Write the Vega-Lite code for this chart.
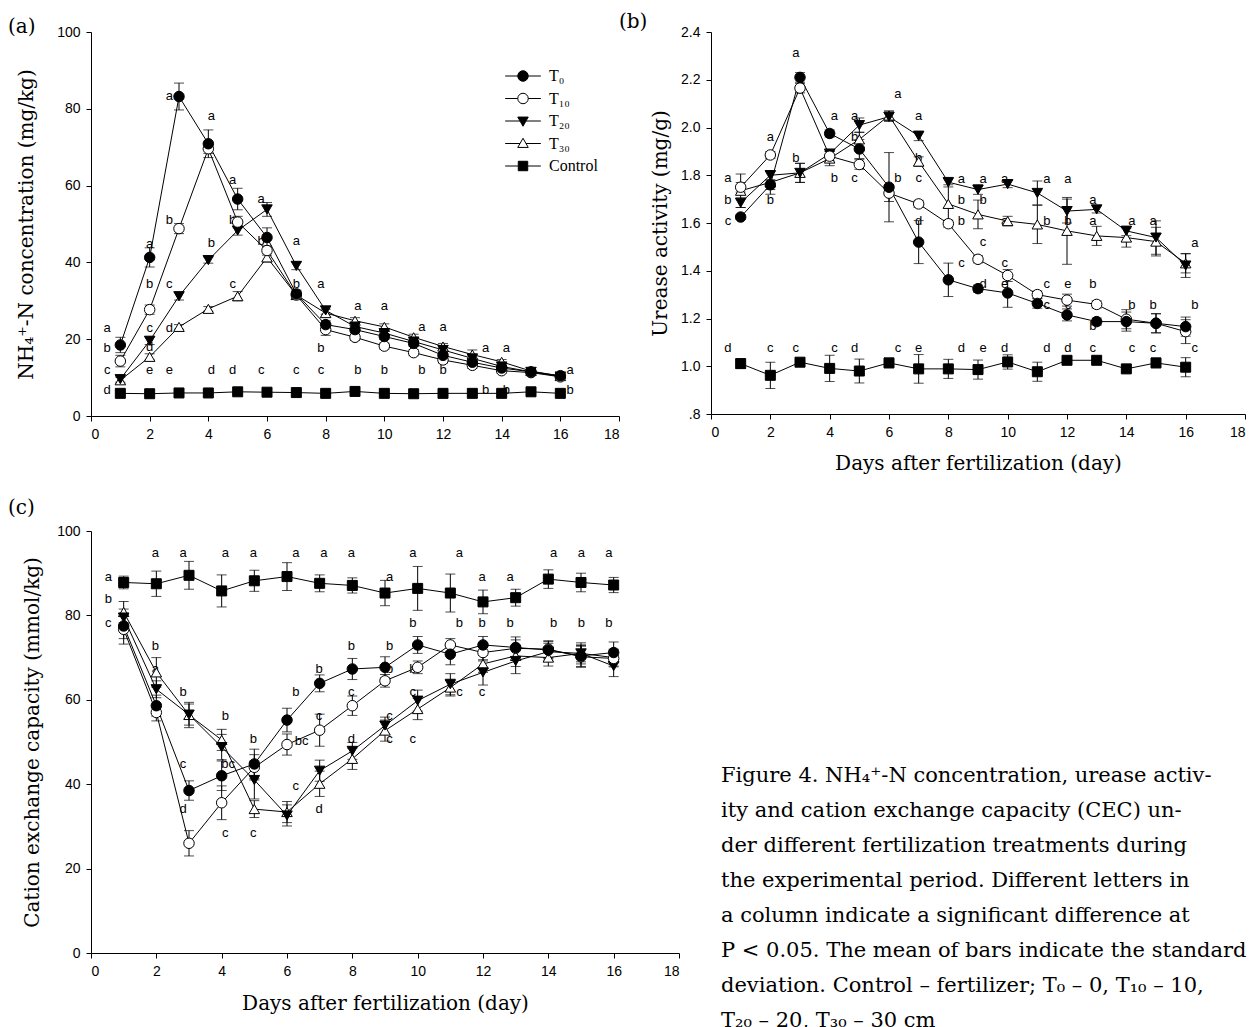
{
"$schema":"https://vega.github.io/schema/vega-lite/v6.json",
"background":"white",
"padding":{"left":8,"top":12,"right":0,"bottom":0},
"columns":2,
"bounds":"flush",
"align":"each",
"spacing":{"row":115,"column":32},
"config":{
 "view":{"stroke":null},
 "axis":{"domainColor":"black","tickColor":"black","labelColor":"black","titleColor":"black","grid":false,"labelFont":"Liberation Sans","labelFontSize":14,"titleFont":"DejaVu Serif","titleFontSize":20,"titleFontWeight":"normal","tickSize":5,"labelPadding":6,"domainWidth":1,"tickWidth":1},
 "title":{"font":"DejaVu Serif","fontSize":20,"fontWeight":"normal","anchor":"start","frame":"group","color":"black","offset":0}
},
"datasets":{
"a":[
{"day":1,"s":"T₀","v":18.5,"e":2},{"day":2,"s":"T₀","v":41.3,"e":2.5},{"day":3,"s":"T₀","v":83.2,"e":3.5},{"day":4,"s":"T₀","v":70.9,"e":3.6},{"day":5,"s":"T₀","v":56.5,"e":2.8},{"day":6,"s":"T₀","v":46.5,"e":2.5},{"day":7,"s":"T₀","v":31.8,"e":1},{"day":8,"s":"T₀","v":23.8,"e":1},{"day":9,"s":"T₀","v":22.5,"e":0.8},{"day":10,"s":"T₀","v":20.7,"e":0.8},{"day":11,"s":"T₀","v":18.9,"e":0.8},{"day":12,"s":"T₀","v":15.8,"e":0.8},{"day":13,"s":"T₀","v":14,"e":0.8},{"day":14,"s":"T₀","v":12.5,"e":0.6},{"day":15,"s":"T₀","v":11.5,"e":0.5},{"day":16,"s":"T₀","v":10.5,"e":0.5},
{"day":1,"s":"T₁₀","v":14.3,"e":1.5},{"day":2,"s":"T₁₀","v":27.7,"e":1.2},{"day":3,"s":"T₁₀","v":48.8,"e":1.3},{"day":4,"s":"T₁₀","v":69.6,"e":1.2},{"day":5,"s":"T₁₀","v":50.5,"e":1.5},{"day":6,"s":"T₁₀","v":43.1,"e":1.2},{"day":7,"s":"T₁₀","v":31.5,"e":1},{"day":8,"s":"T₁₀","v":22.5,"e":1.5},{"day":9,"s":"T₁₀","v":20.5,"e":0.8},{"day":10,"s":"T₁₀","v":18.2,"e":0.8},{"day":11,"s":"T₁₀","v":16.5,"e":0.8},{"day":12,"s":"T₁₀","v":14.6,"e":0.8},{"day":13,"s":"T₁₀","v":13.2,"e":0.8},{"day":14,"s":"T₁₀","v":11.8,"e":0.6},{"day":15,"s":"T₁₀","v":11.3,"e":0.5},{"day":16,"s":"T₁₀","v":10.2,"e":0.5},
{"day":1,"s":"T₂₀","v":9.6,"e":0.8},{"day":2,"s":"T₂₀","v":19.6,"e":1},{"day":3,"s":"T₂₀","v":31.2,"e":1},{"day":4,"s":"T₂₀","v":40.6,"e":0.8},{"day":5,"s":"T₂₀","v":48.3,"e":1.2},{"day":6,"s":"T₂₀","v":53.8,"e":1.8},{"day":7,"s":"T₂₀","v":39.1,"e":1},{"day":8,"s":"T₂₀","v":27.5,"e":1},{"day":9,"s":"T₂₀","v":23.3,"e":0.8},{"day":10,"s":"T₂₀","v":21.6,"e":0.8},{"day":11,"s":"T₂₀","v":19.4,"e":0.8},{"day":12,"s":"T₂₀","v":17.2,"e":0.8},{"day":13,"s":"T₂₀","v":15,"e":0.8},{"day":14,"s":"T₂₀","v":12.9,"e":0.6},{"day":15,"s":"T₂₀","v":11.5,"e":0.5},{"day":16,"s":"T₂₀","v":10.3,"e":0.5},
{"day":1,"s":"T₃₀","v":9.3,"e":0.8},{"day":2,"s":"T₃₀","v":15.4,"e":0.8},{"day":3,"s":"T₃₀","v":23.2,"e":0.6},{"day":4,"s":"T₃₀","v":27.9,"e":0.6},{"day":5,"s":"T₃₀","v":31.2,"e":1.2},{"day":6,"s":"T₃₀","v":41.3,"e":1.2},{"day":7,"s":"T₃₀","v":31.5,"e":1},{"day":8,"s":"T₃₀","v":26.8,"e":1},{"day":9,"s":"T₃₀","v":24.8,"e":0.8},{"day":10,"s":"T₃₀","v":23.2,"e":0.8},{"day":11,"s":"T₃₀","v":20.5,"e":0.8},{"day":12,"s":"T₃₀","v":18.1,"e":0.8},{"day":13,"s":"T₃₀","v":16,"e":1.2},{"day":14,"s":"T₃₀","v":14.1,"e":0.6},{"day":15,"s":"T₃₀","v":11.7,"e":0.5},{"day":16,"s":"T₃₀","v":10.4,"e":0.5},
{"day":1,"s":"Control","v":5.9,"e":0.4},{"day":2,"s":"Control","v":5.8,"e":0.4},{"day":3,"s":"Control","v":6,"e":0.4},{"day":4,"s":"Control","v":6,"e":0.4},{"day":5,"s":"Control","v":6.3,"e":0.4},{"day":6,"s":"Control","v":6.2,"e":0.4},{"day":7,"s":"Control","v":6.1,"e":0.4},{"day":8,"s":"Control","v":5.9,"e":0.4},{"day":9,"s":"Control","v":6.4,"e":0.4},{"day":10,"s":"Control","v":5.9,"e":0.4},{"day":11,"s":"Control","v":5.8,"e":0.4},{"day":12,"s":"Control","v":5.9,"e":0.4},{"day":13,"s":"Control","v":5.9,"e":0.4},{"day":14,"s":"Control","v":5.9,"e":0.4},{"day":15,"s":"Control","v":6.3,"e":0.4},{"day":16,"s":"Control","v":5.9,"e":0.4}
],
"la":[
{"day":0.55,"v":22.9,"t":"a"},{"day":0.55,"v":17.6,"t":"b"},{"day":0.55,"v":12.1,"t":"c"},{"day":0.55,"v":6.7,"t":"d"},
{"day":2,"v":44.8,"t":"a"},{"day":2,"v":34.3,"t":"b"},{"day":2,"v":22.9,"t":"c"},{"day":2,"v":17.9,"t":"d"},{"day":2,"v":12.1,"t":"e"},
{"day":2.67,"v":83.4,"t":"a"},{"day":2.67,"v":51,"t":"b"},{"day":2.67,"v":34.3,"t":"c"},{"day":2.67,"v":22.8,"t":"d"},{"day":2.67,"v":12.1,"t":"e"},
{"day":4.1,"v":78.2,"t":"a"},{"day":4.1,"v":45,"t":"b"},{"day":4.1,"v":12.1,"t":"d"},
{"day":4.83,"v":61.5,"t":"a"},{"day":4.83,"v":51,"t":"b"},{"day":4.83,"v":34.3,"t":"c"},{"day":4.83,"v":12.1,"t":"d"},
{"day":5.8,"v":56.4,"t":"a"},{"day":5.8,"v":45.5,"t":"b"},{"day":5.8,"v":12.1,"t":"c"},
{"day":7,"v":45.5,"t":"a"},{"day":7,"v":34.3,"t":"b"},{"day":7,"v":12.1,"t":"c"},
{"day":7.84,"v":34.3,"t":"a"},{"day":7.84,"v":17.6,"t":"b"},{"day":7.84,"v":12.1,"t":"c"},
{"day":9.1,"v":28.6,"t":"a"},{"day":9.1,"v":12.1,"t":"b"},
{"day":10,"v":28.6,"t":"a"},{"day":10,"v":12.1,"t":"b"},
{"day":11.28,"v":23.1,"t":"a"},{"day":11.28,"v":12.1,"t":"b"},
{"day":12,"v":23.1,"t":"a"},{"day":12,"v":12.1,"t":"b"},
{"day":13.45,"v":17.6,"t":"a"},{"day":13.45,"v":6.7,"t":"b"},
{"day":14.16,"v":17.6,"t":"a"},{"day":14.16,"v":6.7,"t":"b"},
{"day":16.33,"v":12.1,"t":"a"},{"day":16.33,"v":6.7,"t":"b"}
],
"b":[
{"day":1,"s":"T₀","v":1.625,"e":0.01},{"day":2,"s":"T₀","v":1.76,"e":0.02},{"day":3,"s":"T₀","v":2.21,"e":0.02},{"day":4,"s":"T₀","v":1.975,"e":0.015},{"day":5,"s":"T₀","v":1.91,"e":0.04},{"day":6,"s":"T₀","v":1.75,"e":0.145},{"day":7,"s":"T₀","v":1.52,"e":0.09},{"day":8,"s":"T₀","v":1.362,"e":0.07},{"day":9,"s":"T₀","v":1.325,"e":0.015},{"day":10,"s":"T₀","v":1.307,"e":0.06},{"day":11,"s":"T₀","v":1.263,"e":0.02},{"day":12,"s":"T₀","v":1.215,"e":0.025},{"day":13,"s":"T₀","v":1.187,"e":0.015},{"day":14,"s":"T₀","v":1.187,"e":0.04},{"day":15,"s":"T₀","v":1.18,"e":0.04},{"day":16,"s":"T₀","v":1.166,"e":0.04},
{"day":1,"s":"T₁₀","v":1.75,"e":0.02},{"day":2,"s":"T₁₀","v":1.885,"e":0.015},{"day":3,"s":"T₁₀","v":2.165,"e":0.02},{"day":4,"s":"T₁₀","v":1.88,"e":0.02},{"day":5,"s":"T₁₀","v":1.845,"e":0.02},{"day":6,"s":"T₁₀","v":1.725,"e":0.035},{"day":7,"s":"T₁₀","v":1.68,"e":0.015},{"day":8,"s":"T₁₀","v":1.597,"e":0.015},{"day":9,"s":"T₁₀","v":1.448,"e":0.015},{"day":10,"s":"T₁₀","v":1.38,"e":0.025},{"day":11,"s":"T₁₀","v":1.3,"e":0.015},{"day":12,"s":"T₁₀","v":1.277,"e":0.025},{"day":13,"s":"T₁₀","v":1.259,"e":0.015},{"day":14,"s":"T₁₀","v":1.197,"e":0.04},{"day":15,"s":"T₁₀","v":1.18,"e":0.04},{"day":16,"s":"T₁₀","v":1.145,"e":0.05},
{"day":1,"s":"T₂₀","v":1.685,"e":0.02},{"day":2,"s":"T₂₀","v":1.8,"e":0.02},{"day":3,"s":"T₂₀","v":1.81,"e":0.04},{"day":4,"s":"T₂₀","v":1.89,"e":0.02},{"day":5,"s":"T₂₀","v":2.01,"e":0.03},{"day":6,"s":"T₂₀","v":2.045,"e":0.02},{"day":7,"s":"T₂₀","v":1.965,"e":0.02},{"day":8,"s":"T₂₀","v":1.771,"e":0.02},{"day":9,"s":"T₂₀","v":1.74,"e":0.02},{"day":10,"s":"T₂₀","v":1.763,"e":0.015},{"day":11,"s":"T₂₀","v":1.726,"e":0.05},{"day":12,"s":"T₂₀","v":1.65,"e":0.05},{"day":13,"s":"T₂₀","v":1.657,"e":0.015},{"day":14,"s":"T₂₀","v":1.567,"e":0.02},{"day":15,"s":"T₂₀","v":1.539,"e":0.07},{"day":16,"s":"T₂₀","v":1.422,"e":0.05},
{"day":1,"s":"T₃₀","v":1.735,"e":0.07},{"day":2,"s":"T₃₀","v":1.77,"e":0.05},{"day":3,"s":"T₃₀","v":1.81,"e":0.04},{"day":4,"s":"T₃₀","v":1.87,"e":0.03},{"day":5,"s":"T₃₀","v":1.95,"e":0.03},{"day":6,"s":"T₃₀","v":2.05,"e":0.02},{"day":7,"s":"T₃₀","v":1.857,"e":0.02},{"day":8,"s":"T₃₀","v":1.68,"e":0.08},{"day":9,"s":"T₃₀","v":1.636,"e":0.06},{"day":10,"s":"T₃₀","v":1.608,"e":0.02},{"day":11,"s":"T₃₀","v":1.594,"e":0.08},{"day":12,"s":"T₃₀","v":1.567,"e":0.14},{"day":13,"s":"T₃₀","v":1.546,"e":0.04},{"day":14,"s":"T₃₀","v":1.539,"e":0.04},{"day":15,"s":"T₃₀","v":1.522,"e":0.06},{"day":16,"s":"T₃₀","v":1.431,"e":0.04},
{"day":1,"s":"Control","v":1.011,"e":0.02},{"day":2,"s":"Control","v":0.962,"e":0.055},{"day":3,"s":"Control","v":1.017,"e":0.01},{"day":4,"s":"Control","v":0.991,"e":0.055},{"day":5,"s":"Control","v":0.98,"e":0.05},{"day":6,"s":"Control","v":1.014,"e":0.02},{"day":7,"s":"Control","v":0.989,"e":0.06},{"day":8,"s":"Control","v":0.989,"e":0.04},{"day":9,"s":"Control","v":0.986,"e":0.04},{"day":10,"s":"Control","v":1.018,"e":0.03},{"day":11,"s":"Control","v":0.977,"e":0.04},{"day":12,"s":"Control","v":1.025,"e":0.01},{"day":13,"s":"Control","v":1.025,"e":0.015},{"day":14,"s":"Control","v":0.989,"e":0.01},{"day":15,"s":"Control","v":1.014,"e":0.02},{"day":16,"s":"Control","v":0.996,"e":0.04}
],
"lb":[
{"day":0.57,"v":1.788,"t":"a"},{"day":0.57,"v":1.698,"t":"b"},{"day":0.57,"v":1.608,"t":"c"},{"day":0.57,"v":1.076,"t":"d"},
{"day":2,"v":1.961,"t":"a"},{"day":2,"v":1.698,"t":"b"},{"day":2,"v":1.076,"t":"c"},
{"day":2.86,"v":2.313,"t":"a"},{"day":2.86,"v":1.871,"t":"b"},{"day":2.86,"v":1.076,"t":"c"},
{"day":4.16,"v":2.05,"t":"a"},{"day":4.16,"v":1.788,"t":"b"},{"day":4.16,"v":1.076,"t":"c"},
{"day":4.84,"v":2.05,"t":"a"},{"day":4.84,"v":1.961,"t":"b"},{"day":4.84,"v":1.788,"t":"c"},{"day":4.84,"v":1.076,"t":"d"},
{"day":6.3,"v":2.14,"t":"a"},{"day":6.3,"v":1.788,"t":"b"},{"day":6.3,"v":1.076,"t":"c"},
{"day":7,"v":2.05,"t":"a"},{"day":7,"v":1.874,"t":"b"},{"day":7,"v":1.788,"t":"c"},{"day":7,"v":1.608,"t":"d"},{"day":7,"v":1.076,"t":"e"},
{"day":8.44,"v":1.785,"t":"a"},{"day":8.44,"v":1.698,"t":"b"},{"day":8.44,"v":1.608,"t":"b"},{"day":8.44,"v":1.431,"t":"c"},{"day":8.44,"v":1.076,"t":"d"},
{"day":9.17,"v":1.785,"t":"a"},{"day":9.17,"v":1.698,"t":"b"},{"day":9.17,"v":1.522,"t":"c"},{"day":9.17,"v":1.346,"t":"d"},{"day":9.17,"v":1.076,"t":"e"},
{"day":9.9,"v":1.785,"t":"a"},{"day":9.9,"v":1.608,"t":"a"},{"day":9.9,"v":1.431,"t":"c"},{"day":9.9,"v":1.346,"t":"e"},{"day":9.9,"v":1.076,"t":"d"},
{"day":11.32,"v":1.785,"t":"a"},{"day":11.32,"v":1.608,"t":"b"},{"day":11.32,"v":1.346,"t":"c"},{"day":11.32,"v":1.256,"t":"c"},{"day":11.32,"v":1.076,"t":"d"},
{"day":12.03,"v":1.785,"t":"a"},{"day":12.03,"v":1.608,"t":"b"},{"day":12.03,"v":1.346,"t":"e"},{"day":12.03,"v":1.256,"t":"c"},{"day":12.03,"v":1.076,"t":"d"},
{"day":12.87,"v":1.698,"t":"a"},{"day":12.87,"v":1.608,"t":"a"},{"day":12.87,"v":1.346,"t":"b"},{"day":12.87,"v":1.169,"t":"b"},{"day":12.87,"v":1.076,"t":"c"},
{"day":14.19,"v":1.608,"t":"a"},{"day":14.19,"v":1.256,"t":"b"},{"day":14.19,"v":1.076,"t":"c"},
{"day":14.9,"v":1.608,"t":"a"},{"day":14.9,"v":1.256,"t":"b"},{"day":14.9,"v":1.076,"t":"c"},
{"day":16.31,"v":1.518,"t":"a"},{"day":16.31,"v":1.256,"t":"b"},{"day":16.31,"v":1.076,"t":"c"}
],
"c":[
{"day":1,"s":"T₀","v":77.5,"e":3},{"day":2,"s":"T₀","v":58.6,"e":2.5},{"day":3,"s":"T₀","v":38.5,"e":2.3},{"day":4,"s":"T₀","v":42,"e":3.5},{"day":5,"s":"T₀","v":44.8,"e":3.5},{"day":6,"s":"T₀","v":55.2,"e":2.8},{"day":7,"s":"T₀","v":63.9,"e":2},{"day":8,"s":"T₀","v":67.3,"e":2.5},{"day":9,"s":"T₀","v":67.7,"e":2.5},{"day":10,"s":"T₀","v":73,"e":2},{"day":11,"s":"T₀","v":70.8,"e":2.5},{"day":12,"s":"T₀","v":73,"e":2},{"day":13,"s":"T₀","v":72.4,"e":2.5},{"day":14,"s":"T₀","v":71.8,"e":2},{"day":15,"s":"T₀","v":70.4,"e":2.5},{"day":16,"s":"T₀","v":71.2,"e":2.5},
{"day":1,"s":"T₁₀","v":76.7,"e":3.5},{"day":2,"s":"T₁₀","v":57,"e":2},{"day":3,"s":"T₁₀","v":26,"e":3},{"day":4,"s":"T₁₀","v":35.6,"e":4},{"day":5,"s":"T₁₀","v":44,"e":3},{"day":6,"s":"T₁₀","v":49.4,"e":2.5},{"day":7,"s":"T₁₀","v":52.8,"e":3.8},{"day":8,"s":"T₁₀","v":58.6,"e":2.3},{"day":9,"s":"T₁₀","v":64.5,"e":1.5},{"day":10,"s":"T₁₀","v":67.7,"e":1.5},{"day":11,"s":"T₁₀","v":73,"e":1.5},{"day":12,"s":"T₁₀","v":71.2,"e":2},{"day":13,"s":"T₁₀","v":72.2,"e":2},{"day":14,"s":"T₁₀","v":72,"e":2},{"day":15,"s":"T₁₀","v":70.2,"e":2.5},{"day":16,"s":"T₁₀","v":69.8,"e":2},
{"day":1,"s":"T₂₀","v":79.5,"e":2},{"day":2,"s":"T₂₀","v":62.5,"e":2},{"day":3,"s":"T₂₀","v":56.5,"e":2.5},{"day":4,"s":"T₂₀","v":48.8,"e":3},{"day":5,"s":"T₂₀","v":41,"e":4.5},{"day":6,"s":"T₂₀","v":32.6,"e":2.5},{"day":7,"s":"T₂₀","v":43.2,"e":2.5},{"day":8,"s":"T₂₀","v":47.9,"e":2},{"day":9,"s":"T₂₀","v":53.9,"e":2},{"day":10,"s":"T₂₀","v":59.8,"e":2.5},{"day":11,"s":"T₂₀","v":63.7,"e":2.5},{"day":12,"s":"T₂₀","v":66.5,"e":3},{"day":13,"s":"T₂₀","v":69.2,"e":3},{"day":14,"s":"T₂₀","v":71.4,"e":2},{"day":15,"s":"T₂₀","v":71,"e":2.5},{"day":16,"s":"T₂₀","v":68,"e":2.5},
{"day":1,"s":"T₃₀","v":80.8,"e":2.5},{"day":2,"s":"T₃₀","v":66.5,"e":3.5},{"day":3,"s":"T₃₀","v":56.4,"e":3},{"day":4,"s":"T₃₀","v":50.5,"e":2.5},{"day":5,"s":"T₃₀","v":34.1,"e":2},{"day":6,"s":"T₃₀","v":33.4,"e":2.5},{"day":7,"s":"T₃₀","v":40.1,"e":3},{"day":8,"s":"T₃₀","v":46,"e":2.5},{"day":9,"s":"T₃₀","v":52.7,"e":2.5},{"day":10,"s":"T₃₀","v":57.8,"e":2.5},{"day":11,"s":"T₃₀","v":62.9,"e":2},{"day":12,"s":"T₃₀","v":68.5,"e":2},{"day":13,"s":"T₃₀","v":70.4,"e":2.5},{"day":14,"s":"T₃₀","v":70,"e":2},{"day":15,"s":"T₃₀","v":71,"e":2},{"day":16,"s":"T₃₀","v":70,"e":2},
{"day":1,"s":"Control","v":87.8,"e":1.5},{"day":2,"s":"Control","v":87.5,"e":3},{"day":3,"s":"Control","v":89.5,"e":3.3},{"day":4,"s":"Control","v":85.8,"e":3.8},{"day":5,"s":"Control","v":88.2,"e":2.5},{"day":6,"s":"Control","v":89.2,"e":3.3},{"day":7,"s":"Control","v":87.6,"e":2},{"day":8,"s":"Control","v":87.1,"e":1.8},{"day":9,"s":"Control","v":85.3,"e":3},{"day":10,"s":"Control","v":86.4,"e":5.2},{"day":11,"s":"Control","v":85.3,"e":4.5},{"day":12,"s":"Control","v":83.2,"e":2.8},{"day":13,"s":"Control","v":84.2,"e":2},{"day":14,"s":"Control","v":88.6,"e":2.2},{"day":15,"s":"Control","v":87.8,"e":2.2},{"day":16,"s":"Control","v":87.2,"e":1.8}
],
"lc":[
{"day":0.53,"v":89.2,"t":"a"},{"day":0.53,"v":83.8,"t":"b"},{"day":0.53,"v":78.2,"t":"c"},
{"day":1.97,"v":94.9,"t":"a"},{"day":2.82,"v":94.9,"t":"a"},{"day":4.11,"v":94.9,"t":"a"},{"day":4.97,"v":94.9,"t":"a"},{"day":6.27,"v":94.9,"t":"a"},{"day":7.13,"v":94.9,"t":"a"},{"day":7.97,"v":94.9,"t":"a"},{"day":9.85,"v":94.9,"t":"a"},{"day":11.28,"v":94.9,"t":"a"},{"day":14.16,"v":94.9,"t":"a"},{"day":15.01,"v":94.9,"t":"a"},{"day":15.85,"v":94.9,"t":"a"},
{"day":9.14,"v":89.2,"t":"a"},{"day":11.97,"v":89.2,"t":"a"},{"day":12.83,"v":89.2,"t":"a"},
{"day":1.97,"v":72.8,"t":"b"},{"day":1.97,"v":67.3,"t":"a"},{"day":1.97,"v":58.2,"t":"c"},
{"day":2.82,"v":61.8,"t":"b"},{"day":2.82,"v":44.8,"t":"c"},{"day":2.82,"v":34.1,"t":"d"},
{"day":4.11,"v":56.1,"t":"b"},{"day":4.2,"v":44.8,"t":"bc"},{"day":4.11,"v":28.4,"t":"c"},
{"day":4.97,"v":50.7,"t":"b"},{"day":4.97,"v":28.4,"t":"c"},
{"day":6.27,"v":61.8,"t":"b"},{"day":6.45,"v":50.3,"t":"bc"},{"day":6.27,"v":39.5,"t":"c"},
{"day":6.98,"v":67.3,"t":"b"},{"day":6.98,"v":56.1,"t":"c"},{"day":6.98,"v":34.1,"t":"d"},
{"day":7.97,"v":72.8,"t":"b"},{"day":7.97,"v":61.8,"t":"c"},{"day":7.97,"v":50.6,"t":"d"},
{"day":9.14,"v":72.8,"t":"b"},{"day":9.14,"v":67.3,"t":"b"},{"day":9.14,"v":56.1,"t":"c"},{"day":9.14,"v":50.6,"t":"c"},
{"day":9.85,"v":78.2,"t":"b"},{"day":9.85,"v":67.3,"t":"b"},{"day":9.85,"v":61.8,"t":"c"},{"day":9.85,"v":50.6,"t":"c"},
{"day":11.28,"v":78.2,"t":"b"},{"day":11.28,"v":61.8,"t":"c"},
{"day":11.97,"v":78.2,"t":"b"},{"day":11.97,"v":61.8,"t":"c"},
{"day":12.83,"v":78.2,"t":"b"},{"day":14.16,"v":78.2,"t":"b"},{"day":15.01,"v":78.2,"t":"b"},{"day":15.85,"v":78.2,"t":"b"}
],
"cap":[
{"line":1,"txt":"Figure 4. NH₄⁺-N concentration, urease activ-"},
{"line":2,"txt":"ity and cation exchange capacity (CEC) un-"},
{"line":3,"txt":"der different fertilization treatments during"},
{"line":4,"txt":"the experimental period. Different letters in"},
{"line":5,"txt":"a column indicate a significant difference at"},
{"line":6,"txt":"P < 0.05. The mean of bars indicate the standard"},
{"line":7,"txt":"deviation. Control – fertilizer; T₀ – 0, T₁₀ – 10,"},
{"line":8,"txt":"T₂₀ – 20, T₃₀ – 30 cm"}
]
},
"concat":[
{
 "width":528,"height":384,
 "title":{"text":"(a)","dx":-83,"dy":16},
 "layer":[
  {"data":{"name":"a"},"mark":{"type":"line","color":"black","strokeWidth":1},
   "encoding":{"x":{"field":"day","type":"quantitative","title":null,"scale":{"domain":[0,18],"nice":false},"axis":{"values":[0,2,4,6,8,10,12,14,16,18],"title":null}},
    "y":{"field":"v","type":"quantitative","title":"NH₄⁺-N concentration (mg/kg)","scale":{"domain":[0,100],"nice":false},"axis":{"values":[0,20,40,60,80,100],"titlePadding":20}},
    "detail":{"field":"s"}}},
  {"data":{"name":"la"},"mark":{"type":"text","font":"Liberation Sans","fontSize":13,"color":"black"},
   "encoding":{"x":{"field":"day","type":"quantitative","title":null},"y":{"field":"v","type":"quantitative","title":"NH₄⁺-N concentration (mg/kg)"},"text":{"field":"t"}}},
  {"data":{"name":"a"},"mark":{"type":"errorbar","color":"black","ticks":{"size":10,"color":"black"},"rule":{"color":"black"}},
   "encoding":{"x":{"field":"day","type":"quantitative","title":null},"y":{"field":"v","type":"quantitative","title":"NH₄⁺-N concentration (mg/kg)"},"yError":{"field":"e"}}},
  {"data":{"name":"a"},"transform":[{"filter":"datum.s === 'T₃₀'"}],"mark":{"type":"point","shape":"triangle-up","filled":true,"fill":"white","stroke":"black","strokeWidth":1,"size":110,"opacity":1},
   "encoding":{"x":{"field":"day","type":"quantitative","title":null},"y":{"field":"v","type":"quantitative","title":"NH₄⁺-N concentration (mg/kg)"}}},
  {"data":{"name":"a"},"transform":[{"filter":"datum.s === 'T₂₀'"}],"mark":{"type":"point","shape":"triangle-down","filled":true,"fill":"black","stroke":"black","strokeWidth":1,"size":110,"opacity":1},
   "encoding":{"x":{"field":"day","type":"quantitative","title":null},"y":{"field":"v","type":"quantitative","title":"NH₄⁺-N concentration (mg/kg)"}}},
  {"data":{"name":"a"},"transform":[{"filter":"datum.s === 'T₁₀'"}],"mark":{"type":"point","shape":"circle","filled":true,"fill":"white","stroke":"black","strokeWidth":1,"size":110,"opacity":1},
   "encoding":{"x":{"field":"day","type":"quantitative","title":null},"y":{"field":"v","type":"quantitative","title":"NH₄⁺-N concentration (mg/kg)"}}},
  {"data":{"name":"a"},"transform":[{"filter":"datum.s === 'T₀'"}],"mark":{"type":"point","shape":"circle","filled":true,"fill":"black","stroke":"black","strokeWidth":1,"size":110,"opacity":1},
   "encoding":{"x":{"field":"day","type":"quantitative","title":null},"y":{"field":"v","type":"quantitative","title":"NH₄⁺-N concentration (mg/kg)"}}},
  {"data":{"name":"a"},"transform":[{"filter":"datum.s === 'Control'"}],"mark":{"type":"point","shape":"square","filled":true,"fill":"black","stroke":"black","strokeWidth":1,"size":100,"opacity":1},
   "encoding":{"x":{"field":"day","type":"quantitative","title":null},"y":{"field":"v","type":"quantitative","title":"NH₄⁺-N concentration (mg/kg)"}}},
  {"data":{"name":"a"},"mark":{"type":"point","filled":true,"strokeWidth":1,"size":110,"opacity":0},
   "encoding":{"x":{"field":"day","type":"quantitative","title":null},"y":{"field":"v","type":"quantitative","title":"NH₄⁺-N concentration (mg/kg)"},
    "shape":{"field":"s","type":"nominal","scale":{"domain":["T₀","T₁₀","T₂₀","T₃₀","Control"],"range":["M-3.4,0H-1M1,0H3.4M1,0A1,1,0,1,1,-1,0A1,1,0,1,1,1,0Z","M-3.4,0H-1M1,0H3.4M1,0A1,1,0,1,1,-1,0A1,1,0,1,1,1,0Z","M-3.4,0H-0.57M0.57,0H3.4M-1,-0.75L1,-0.75L0,1Z","M-3.4,0H-0.57M0.57,0H3.4M-1,0.75L1,0.75L0,-1Z","M-3.4,0H-0.9M0.9,0H3.4M-0.9,-0.9H0.9V0.9H-0.9Z"]},
     "legend":{"orient":"none","legendX":424,"legendY":36,"title":null,"symbolSize":110,"labelFont":"Liberation Serif","labelFontSize":16,"labelColor":"black","labelOffset":18,"symbolStrokeColor":"black","symbolStrokeWidth":1,"symbolOpacity":1,"rowPadding":6.5}},
    "fill":{"field":"s","type":"nominal","scale":{"domain":["T₀","T₁₀","T₂₀","T₃₀","Control"],"range":["black","white","black","white","black"]},
     "legend":{"orient":"none","legendX":424,"legendY":36,"title":null,"symbolSize":110,"labelFont":"Liberation Serif","labelFontSize":16,"labelColor":"black","labelOffset":18,"symbolStrokeColor":"black","symbolStrokeWidth":1,"symbolOpacity":1,"rowPadding":6.5}},
    "stroke":{"field":"s","type":"nominal","scale":{"domain":["T₀","T₁₀","T₂₀","T₃₀","Control"],"range":["black","black","black","black","black"]},
     "legend":{"orient":"none","legendX":424,"legendY":36,"title":null,"symbolSize":110,"labelFont":"Liberation Serif","labelFontSize":16,"labelColor":"black","labelOffset":18,"symbolStrokeColor":"black","symbolStrokeWidth":1,"symbolOpacity":1,"rowPadding":6.5}}}}
 ]
},
{
 "width":534,"height":382,
 "title":{"text":"(b)","dx":-92,"dy":11},
 "layer":[
  {"data":{"name":"b"},"mark":{"type":"line","color":"black","strokeWidth":1},
   "encoding":{"x":{"field":"day","type":"quantitative","title":"Days after fertilization (day)","scale":{"domain":[0,18],"nice":false},"axis":{"values":[0,2,4,6,8,10,12,14,16,18],"titlePadding":14}},
    "y":{"field":"v","type":"quantitative","title":"Urease activity (mg/g)","scale":{"domain":[0.8,2.4],"nice":false,"zero":false},"axis":{"values":[0.8,1,1.2,1.4,1.6,1.8,2,2.2,2.4],"labelExpr":"datum.value < 0.9 ? '.8' : format(datum.value, '.1f')","titlePadding":10}},
    "detail":{"field":"s"}}},
  {"data":{"name":"lb"},"mark":{"type":"text","font":"Liberation Sans","fontSize":13,"color":"black"},
   "encoding":{"x":{"field":"day","type":"quantitative","title":"Days after fertilization (day)"},"y":{"field":"v","type":"quantitative","title":"Urease activity (mg/g)"},"text":{"field":"t"}}},
  {"data":{"name":"b"},"mark":{"type":"errorbar","color":"black","ticks":{"size":10,"color":"black"},"rule":{"color":"black"}},
   "encoding":{"x":{"field":"day","type":"quantitative","title":"Days after fertilization (day)"},"y":{"field":"v","type":"quantitative","title":"Urease activity (mg/g)"},"yError":{"field":"e"}}},
  {"data":{"name":"b"},"transform":[{"filter":"datum.s === 'T₃₀'"}],"mark":{"type":"point","shape":"triangle-up","filled":true,"fill":"white","stroke":"black","strokeWidth":1,"size":110,"opacity":1},
   "encoding":{"x":{"field":"day","type":"quantitative","title":"Days after fertilization (day)"},"y":{"field":"v","type":"quantitative","title":"Urease activity (mg/g)"}}},
  {"data":{"name":"b"},"transform":[{"filter":"datum.s === 'T₂₀'"}],"mark":{"type":"point","shape":"triangle-down","filled":true,"fill":"black","stroke":"black","strokeWidth":1,"size":110,"opacity":1},
   "encoding":{"x":{"field":"day","type":"quantitative","title":"Days after fertilization (day)"},"y":{"field":"v","type":"quantitative","title":"Urease activity (mg/g)"}}},
  {"data":{"name":"b"},"transform":[{"filter":"datum.s === 'T₁₀'"}],"mark":{"type":"point","shape":"circle","filled":true,"fill":"white","stroke":"black","strokeWidth":1,"size":110,"opacity":1},
   "encoding":{"x":{"field":"day","type":"quantitative","title":"Days after fertilization (day)"},"y":{"field":"v","type":"quantitative","title":"Urease activity (mg/g)"}}},
  {"data":{"name":"b"},"transform":[{"filter":"datum.s === 'T₀'"}],"mark":{"type":"point","shape":"circle","filled":true,"fill":"black","stroke":"black","strokeWidth":1,"size":110,"opacity":1},
   "encoding":{"x":{"field":"day","type":"quantitative","title":"Days after fertilization (day)"},"y":{"field":"v","type":"quantitative","title":"Urease activity (mg/g)"}}},
  {"data":{"name":"b"},"transform":[{"filter":"datum.s === 'Control'"}],"mark":{"type":"point","shape":"square","filled":true,"fill":"black","stroke":"black","strokeWidth":1,"size":100,"opacity":1},
   "encoding":{"x":{"field":"day","type":"quantitative","title":"Days after fertilization (day)"},"y":{"field":"v","type":"quantitative","title":"Urease activity (mg/g)"}}}
 ]
},
{
 "width":588,"height":422,
 "title":{"text":"(c)","dx":-83,"dy":-2},
 "layer":[
  {"data":{"name":"c"},"mark":{"type":"line","color":"black","strokeWidth":1},
   "encoding":{"x":{"field":"day","type":"quantitative","title":"Days after fertilization (day)","scale":{"domain":[0,18],"nice":false},"axis":{"values":[0,2,4,6,8,10,12,14,16,18],"titlePadding":15}},
    "y":{"field":"v","type":"quantitative","title":"Cation exchange capacity (mmol/kg)","scale":{"domain":[0,100],"nice":false},"axis":{"values":[0,20,40,60,80,100],"titlePadding":14}},
    "detail":{"field":"s"}}},
  {"data":{"name":"lc"},"mark":{"type":"text","font":"Liberation Sans","fontSize":13,"color":"black"},
   "encoding":{"x":{"field":"day","type":"quantitative","title":"Days after fertilization (day)"},"y":{"field":"v","type":"quantitative","title":"Cation exchange capacity (mmol/kg)"},"text":{"field":"t"}}},
  {"data":{"name":"c"},"mark":{"type":"errorbar","color":"black","ticks":{"size":10,"color":"black"},"rule":{"color":"black"}},
   "encoding":{"x":{"field":"day","type":"quantitative","title":"Days after fertilization (day)"},"y":{"field":"v","type":"quantitative","title":"Cation exchange capacity (mmol/kg)"},"yError":{"field":"e"}}},
  {"data":{"name":"c"},"transform":[{"filter":"datum.s === 'T₃₀'"}],"mark":{"type":"point","shape":"triangle-up","filled":true,"fill":"white","stroke":"black","strokeWidth":1,"size":110,"opacity":1},
   "encoding":{"x":{"field":"day","type":"quantitative","title":"Days after fertilization (day)"},"y":{"field":"v","type":"quantitative","title":"Cation exchange capacity (mmol/kg)"}}},
  {"data":{"name":"c"},"transform":[{"filter":"datum.s === 'T₂₀'"}],"mark":{"type":"point","shape":"triangle-down","filled":true,"fill":"black","stroke":"black","strokeWidth":1,"size":110,"opacity":1},
   "encoding":{"x":{"field":"day","type":"quantitative","title":"Days after fertilization (day)"},"y":{"field":"v","type":"quantitative","title":"Cation exchange capacity (mmol/kg)"}}},
  {"data":{"name":"c"},"transform":[{"filter":"datum.s === 'T₁₀'"}],"mark":{"type":"point","shape":"circle","filled":true,"fill":"white","stroke":"black","strokeWidth":1,"size":110,"opacity":1},
   "encoding":{"x":{"field":"day","type":"quantitative","title":"Days after fertilization (day)"},"y":{"field":"v","type":"quantitative","title":"Cation exchange capacity (mmol/kg)"}}},
  {"data":{"name":"c"},"transform":[{"filter":"datum.s === 'T₀'"}],"mark":{"type":"point","shape":"circle","filled":true,"fill":"black","stroke":"black","strokeWidth":1,"size":110,"opacity":1},
   "encoding":{"x":{"field":"day","type":"quantitative","title":"Days after fertilization (day)"},"y":{"field":"v","type":"quantitative","title":"Cation exchange capacity (mmol/kg)"}}},
  {"data":{"name":"c"},"transform":[{"filter":"datum.s === 'Control'"}],"mark":{"type":"point","shape":"square","filled":true,"fill":"black","stroke":"black","strokeWidth":1,"size":100,"opacity":1},
   "encoding":{"x":{"field":"day","type":"quantitative","title":"Days after fertilization (day)"},"y":{"field":"v","type":"quantitative","title":"Cation exchange capacity (mmol/kg)"}}}
 ]
},
{
 "width":534,"height":490,
 "data":{"name":"cap"},
 "mark":{"type":"text","align":"left","baseline":"middle","font":"DejaVu Serif","fontSize":21,"color":"black","dx":10},
 "encoding":{
  "x":{"datum":0,"type":"quantitative","scale":{"domain":[0,1],"nice":false},"axis":null},
  "y":{"field":"line","type":"quantitative","scale":{"domain":[-6,8],"reverse":true,"nice":false,"zero":false},"axis":null},
  "text":{"field":"txt"}
 }
}
]
}
